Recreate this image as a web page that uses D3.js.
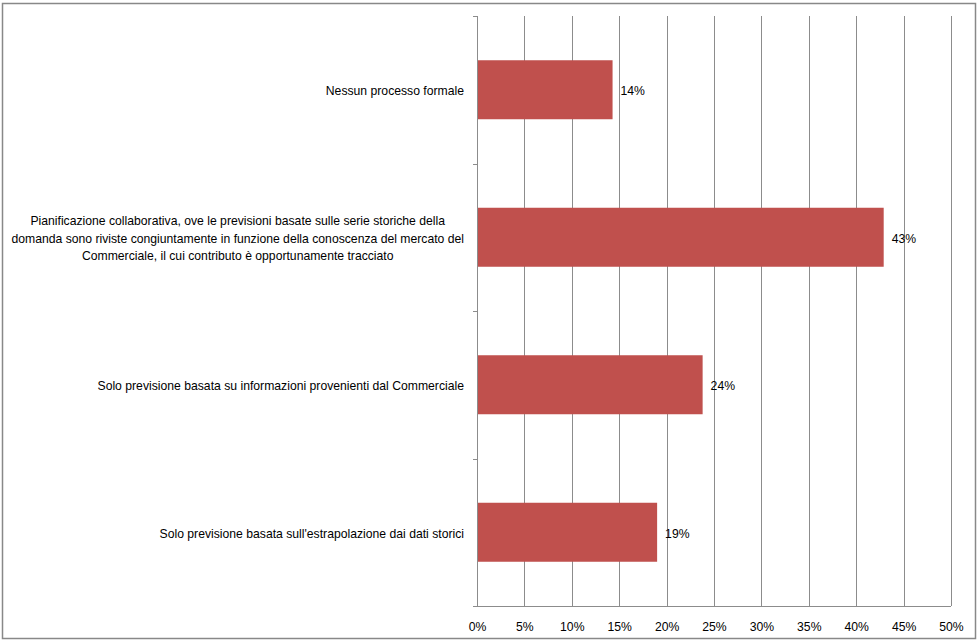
<!DOCTYPE html>
<html><head><meta charset="utf-8">
<script src="https://cdn.jsdelivr.net/npm/d3@7"></script>
<style>
html,body{margin:0;padding:0;background:#fff;}
svg text{font-family:"Liberation Sans",Arial,sans-serif;fill:#000;}
</style></head>
<body><svg id="c" width="980" height="642"></svg>
<script>
const categories = [
  ["Nessun processo formale"],
  ["Pianificazione collaborativa, ove le previsioni basate sulle serie storiche della",
   "domanda sono riviste congiuntamente in funzione della conoscenza del mercato del",
   "Commerciale, il cui contributo è opportunamente tracciato"],
  ["Solo previsione basata su informazioni provenienti dal Commerciale"],
  ["Solo previsione basata sull'estrapolazione  dai dati storici"]
];
const values = [14.3, 42.9, 23.8, 19.0];
const valueLabels = ["14%", "43%", "24%", "19%"];
const xTicks = [0,5,10,15,20,25,30,35,40,45,50];

(function(){
const fs = "12.2px";
const svg = d3.select("#c");
svg.append("rect").attr("x",2.5).attr("y",3.5).attr("width",973).attr("height",635)
  .attr("fill","#fff").attr("stroke","#888").attr("stroke-width",1.5);

const pL = 477, pR = 951, pT = 16, pB = 606;
const x = d3.scaleLinear().domain([0,50]).range([pL,pR]);
const idx = d3.range(categories.length);
const y = d3.scaleBand().domain(idx).range([pT,pB]).paddingInner(0.6).paddingOuter(0.3);
const yb = d3.scaleBand().domain(idx).range([pT,pB]);

// gridlines
svg.append("g").selectAll("line").data(xTicks.slice(1)).join("line")
  .attr("x1",d=>Math.round(x(d))+0.5).attr("x2",d=>Math.round(x(d))+0.5).attr("y1",pT).attr("y2",pB)
  .attr("stroke","#8c8c8c").attr("stroke-width",1);

// bars
svg.append("g").selectAll("rect").data(values).join("rect")
  .attr("x",x(0)).attr("y",(d,i)=>y(i)).attr("width",d=>x(d)-x(0)).attr("height",y.bandwidth())
  .attr("fill","#C0504D");

// x axis
const xa = svg.append("g").attr("transform",`translate(0,${pB})`)
  .call(d3.axisBottom(x).tickValues(xTicks).tickFormat(d=>d+"%").tickSize(4).tickSizeOuter(0));
xa.select(".domain").attr("stroke","#8c8c8c").attr("d",`M${pL-4},0.5H${pR}`);
xa.selectAll(".tick line").attr("stroke","#8c8c8c").attr("y1",0).attr("y2",0);
xa.selectAll(".tick text").attr("font-size",fs).attr("font-family","Liberation Sans, Arial, sans-serif").attr("fill","#000").attr("dy","1.45em");

// y axis line & ticks
const ya = svg.append("g");
ya.append("line").attr("x1",pL+0.5).attr("x2",pL+0.5).attr("y1",pT).attr("y2",pB).attr("stroke","#8c8c8c");
const bounds = idx.map(i=>yb(i)).concat([pB]);
ya.selectAll("line.t").data(bounds).join("line").attr("class","t")
  .attr("x1",pL-4).attr("x2",pL).attr("y1",d=>Math.round(d)+0.5).attr("y2",d=>Math.round(d)+0.5).attr("stroke","#8c8c8c");

// category labels
const lh = 17.5;
categories.forEach((lines,i)=>{
  const cy = y(i)+y.bandwidth()/2 + 1;
  const g = svg.append("text").attr("font-size",fs).attr("text-anchor","middle");
  const tmp = svg.append("text").attr("font-size",fs);
  let maxW = 0;
  lines.forEach(l=>{tmp.text(l); maxW=Math.max(maxW,tmp.node().getComputedTextLength());});
  tmp.remove();
  const cx = 464 - maxW/2;
  lines.forEach((l,j)=>{
    g.append("tspan").attr("x",cx).attr("y",cy + (j-(lines.length-1)/2)*lh).attr("dy","0.35em").text(l);
  });
});

// value labels
svg.append("g").selectAll("text").data(values).join("text")
  .attr("x",d=>x(d)+8).attr("y",(d,i)=>y(i)+y.bandwidth()/2+1).attr("dy","0.35em")
  .attr("font-size",fs).text((d,i)=>valueLabels[i]);
})();
</script></body></html>
